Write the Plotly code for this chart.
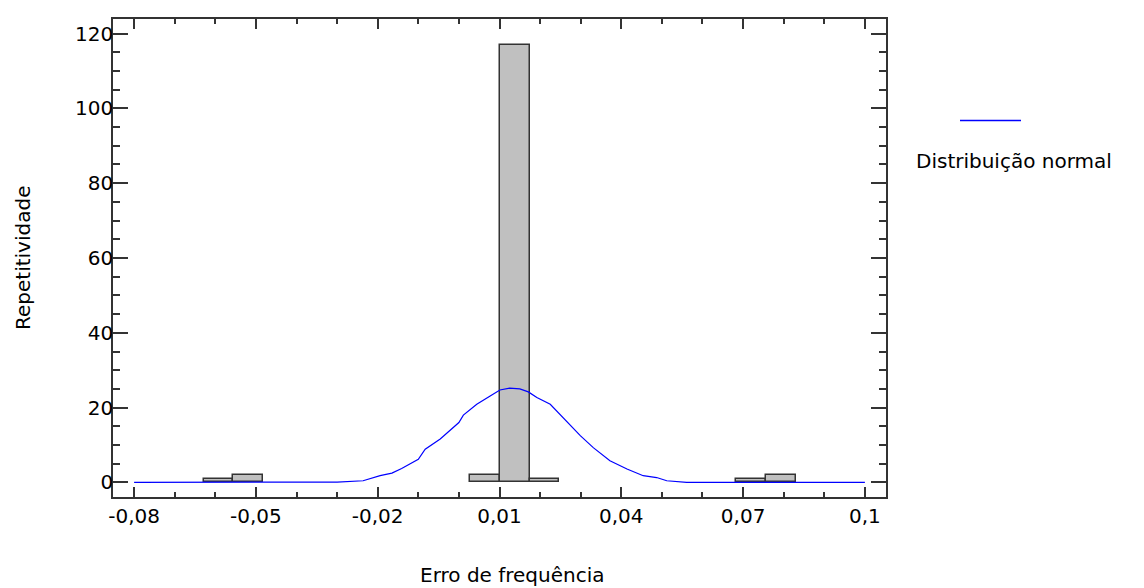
import plotly.graph_objects as go

# ---- data ----
bin_centers = [-0.0592, -0.0519, 0.0065, 0.0138, 0.0211, 0.0720, 0.0793]
counts = [1, 2, 2, 117, 1, 1, 2]
bin_width = 0.0073

curve_x = [-0.08, -0.03, -0.0236, -0.0194, -0.0165, -0.0141, -0.0100, -0.0083,
           -0.0046, 0.0000, 0.0011, 0.0044, 0.0077, 0.0101, 0.0125, 0.0150,
           0.0171, 0.0192, 0.0225, 0.0249, 0.0274, 0.0299, 0.0331, 0.0372,
           0.0414, 0.0454, 0.0487, 0.0512, 0.0561, 0.1]
curve_y = [0, 0.1, 0.45, 1.8, 2.5, 3.7, 6.2, 8.9,
           11.6, 16.0, 18.0, 20.9, 23.1, 24.7, 25.2, 25.0,
           24.2, 22.7, 20.9, 18.2, 15.6, 12.5, 9.3, 5.8,
           3.6, 1.8, 1.3, 0.45, 0.0, 0]

x_tick_vals = [-0.08, -0.05, -0.02, 0.01, 0.04, 0.07, 0.1]
x_tick_text = ["-0,08", "-0,05", "-0,02", "0,01", "0,04", "0,07", "0,1"]
y_tick_vals = [0, 20, 40, 60, 80, 100, 120]

x_title = "Erro de frequência"
y_title = "Repetitividade"
legend_label = "Distribuição normal"

FONT = "DejaVu Sans"
FS = 20

OFF = 8  # page body margin
W, H = 1144 - OFF, 588 - OFF
# plot frame in absolute page pixels (from the reference)
FX0, FX1, FY0, FY1 = 113, 886, 17, 497
L = FX0 - OFF
T = FY0 - OFF
R = W - (FX1 - OFF)
B = H - (FY1 - OFF)
pw = FX1 - FX0
ph = FY1 - FY0


def px(xp):
    return (xp - FX0) / pw


def py(yp):
    return (FY1 - yp) / ph


fig = go.Figure()
fig.add_trace(go.Bar(
    x=bin_centers, y=counts, width=bin_width,
    marker=dict(color="#c0c0c0", line=dict(color="#333333", width=1.5)),
    showlegend=False,
))
fig.add_trace(go.Scatter(
    x=curve_x, y=curve_y, mode="lines",
    line=dict(color="#0000ff", width=1.2),
    showlegend=False,
))

fig.update_layout(
    width=W, height=H,
    margin=dict(l=L, r=R, t=T, b=B, pad=0),
    paper_bgcolor="white", plot_bgcolor="white",
    font=dict(family=FONT, size=FS, color="black"),
    bargap=0,
    showlegend=False,
    xaxis=dict(
        range=[-0.0852, 0.1052],
        tickvals=x_tick_vals, ticktext=x_tick_text,
        ticks="inside", ticklen=10, tickwidth=1.5, tickcolor="#333333",
        minor=dict(tick0=-0.08, dtick=0.01, ticks="inside", ticklen=5,
                   tickwidth=1.5, tickcolor="#333333"),
        showline=True, linecolor="#333333", linewidth=1.5, mirror="allticks",
        showgrid=False, zeroline=False,
        tickfont=dict(family=FONT, size=FS),
    ),
    yaxis=dict(
        range=[-3.9, 123.9],
        tickvals=y_tick_vals,
        ticks="inside", ticklen=15, tickwidth=1.5, tickcolor="#333333",
        minor=dict(tick0=0, dtick=5, ticks="inside", ticklen=7,
                   tickwidth=1.5, tickcolor="#333333"),
        showline=True, linecolor="#333333", linewidth=1.5, mirror="allticks",
        showgrid=False, zeroline=False,
        tickfont=dict(family=FONT, size=FS),
        ticklabelstandoff=-6,
    ),
    annotations=[
        dict(text=x_title, xref="paper", yref="paper", x=px(512), y=py(575),
             showarrow=False, xanchor="center", yanchor="middle",
             font=dict(family=FONT, size=FS)),
        dict(text=y_title, xref="paper", yref="paper", x=px(23), y=py(257),
             showarrow=False, xanchor="center", yanchor="middle", textangle=-90,
             font=dict(family=FONT, size=FS)),
        dict(text=legend_label, xref="paper", yref="paper", x=px(914), y=py(160),
             showarrow=False, xanchor="left", yanchor="middle",
             font=dict(family=FONT, size=FS)),
    ],
    shapes=[
        dict(type="line", xref="paper", yref="paper",
             x0=px(960), x1=px(1021), y0=py(119), y1=py(119),
             line=dict(color="#0000ff", width=1.5)),
    ],
)

fig.write_html("out.html")
